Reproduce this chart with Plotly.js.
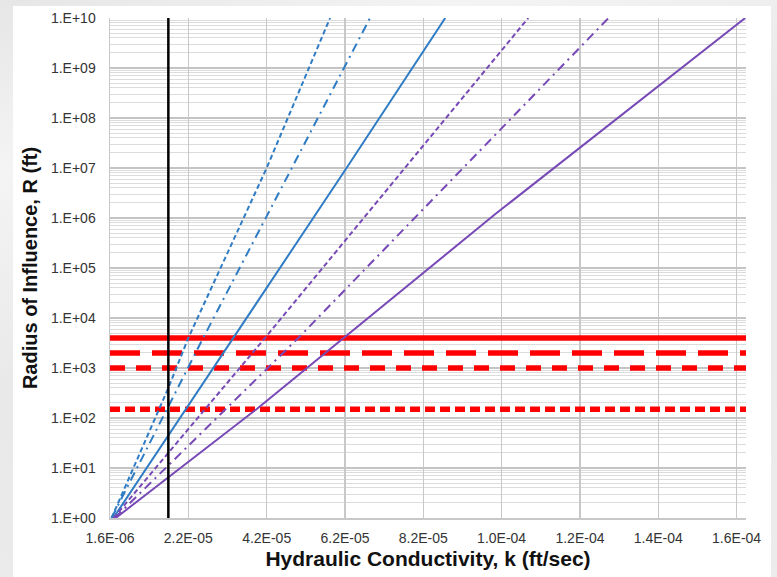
<!DOCTYPE html>
<html>
<head>
<meta charset="utf-8">
<script src="https://cdn.plot.ly/plotly-3.0.1.min.js"></script>
<style>
  html, body { margin: 0; padding: 0; width: 777px; height: 577px; overflow: hidden;
    background: linear-gradient(160deg, #e6e6e6 0%, #f4f4f4 20%, #e9e9e9 45%, #ececec 100%); }
  #chart { position: absolute; left: 13px; top: 6px; width: 758px; height: 571px; background: #ffffff; }
</style>
</head>
<body>
<div id="chart"></div>
<script>
// ---- data ----
// x tick labels (hydraulic conductivity, ft/sec)
const xTickVals = [1.6e-6, 2.16e-5, 4.16e-5, 6.16e-5, 8.16e-5, 1.016e-4, 1.216e-4, 1.416e-4, 1.616e-4];
const xTickText = ["1.6E-06", "2.2E-05", "4.2E-05", "6.2E-05", "8.2E-05", "1.0E-04", "1.2E-04", "1.4E-04", "1.6E-04"];
// y tick labels (radius of influence, ft)
const yTickVals = [1, 1e1, 1e2, 1e3, 1e4, 1e5, 1e6, 1e7, 1e8, 1e9, 1e10];
const yTickText = ["1.E+00", "1.E+01", "1.E+02", "1.E+03", "1.E+04", "1.E+05", "1.E+06", "1.E+07", "1.E+08", "1.E+09", "1.E+10"];

// blue curves
const blueDashK  = [2.0e-6, 1.65e-5, 2.16e-5, 4.16e-5, 5.78e-5];
const blueDashR  = [1, 400, 4.0e3, 1.0e7, 1.0e10];
const blueDashDotK = [2.0e-6, 2.54e-5, 6.8e-5];
const blueDashDotR = [1, 4.0e3, 1.0e10];
const blueSolidK = [2.45e-6, 6.2e-5, 8.72e-5];
const blueSolidR = [1, 1.0e7, 1.0e10];
// purple curves
const purpleDashK = [2.5e-6, 4.12e-5, 1.084e-4];
const purpleDashR = [1, 4.0e3, 1.0e10];
const purpleDashDotK = [2.8e-6, 4.97e-5, 1.289e-4];
const purpleDashDotR = [1, 4.0e3, 1.0e10];
const purpleSolidK = [3.06e-6, 3.9e-5, 1.0e-4, 1.638e-4];
const purpleSolidR = [1, 150, 1.2e6, 1.0e10];
// red horizontal reference radii (ft)
const redLevels = [4000, 2000, 1000, 150];
// black vertical reference conductivity (ft/sec)
const kReference = 1.65e-5;
// axis extents
const kMin = 1.6e-6, kMax = 1.64e-4;
const rMin = 1, rMax = 1e10;

// ---- styling ----
const BLUE = "#2f7cc4";
const PURPLE = "#7749b6";
const RED = "#ff0000";
const redDashes = ["solid", "30px,12px", "15px,11px", "10px,5px"];

const traces = [];
function addLine(x, y, color, width, dash) {
  traces.push({ x: x, y: y, type: "scatter", mode: "lines",
    line: { color: color, width: width, dash: dash }, hoverinfo: "skip" });
}
redLevels.forEach((r, i) => addLine([kMin, kMax], [r, r], RED, 5.5, redDashes[i]));
addLine(blueDashK, blueDashR, BLUE, 2, "5px,3px");
addLine(blueDashDotK, blueDashDotR, BLUE, 2, "9px,5px,2px,5px");
addLine(blueSolidK, blueSolidR, BLUE, 2, "solid");
addLine(purpleDashK, purpleDashR, PURPLE, 2, "5px,3px");
addLine(purpleDashDotK, purpleDashDotR, PURPLE, 2, "9px,5px,2px,5px");
addLine(purpleSolidK, purpleSolidR, PURPLE, 2, "solid");
addLine([kReference, kReference], [rMin, rMax], "#000000", 2.5, "solid");

// minor log gridline positions (2..9 within each decade)
const minorVals = [];
for (let d = 0; d < 10; d++) for (let m = 2; m <= 9; m++) minorVals.push(m * Math.pow(10, d));

const tickFont = { family: "Liberation Sans, Arial, sans-serif", size: 14, color: "#333333" };
const layout = {
  width: 758, height: 571,
  margin: { l: 97, r: 25, t: 12, b: 59 },
  paper_bgcolor: "#ffffff", plot_bgcolor: "#ffffff",
  showlegend: false,
  xaxis: {
    type: "linear", range: [kMin, kMax],
    tickmode: "array", tickvals: xTickVals, ticktext: xTickText,
    tickfont: tickFont, ticks: "", ticklabelstandoff: 7,
    showgrid: true, gridcolor: "#c8c8c8", gridwidth: 1.5,
    zeroline: false, showline: true, linecolor: "#c8c8c8", linewidth: 1.5,
    title: { text: "Hydraulic Conductivity, k (ft/sec)", standoff: 6,
      font: { family: "Liberation Sans, Arial, sans-serif", size: 21, color: "#111111", weight: "bold" } }
  },
  yaxis: {
    type: "log", range: [Math.log10(rMin), Math.log10(rMax)],
    tickmode: "array", tickvals: yTickVals, ticktext: yTickText,
    tickfont: tickFont, ticks: "", ticklabelstandoff: 10,
    showgrid: true, gridcolor: "#c4c4c4", gridwidth: 1.5,
    minor: { tickmode: "array", tickvals: minorVals, showgrid: true, gridcolor: "#dcdcdc", gridwidth: 1, ticks: "" },
    zeroline: false, showline: true, linecolor: "#c8c8c8", linewidth: 1.5,
    title: { text: "Radius of Influence, R (ft)", standoff: 8,
      font: { family: "Liberation Sans, Arial, sans-serif", size: 20, color: "#111111", weight: "bold" } }
  }
};

Plotly.newPlot("chart", traces, layout, { displayModeBar: false, staticPlot: true });
</script>
</body>
</html>
